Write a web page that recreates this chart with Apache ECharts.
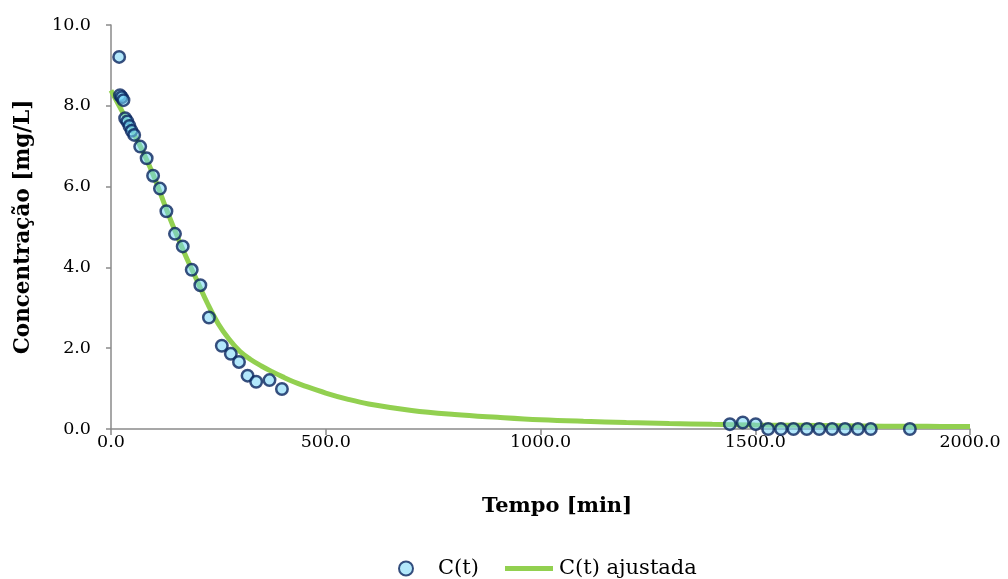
<!DOCTYPE html>
<html>
<head>
<meta charset="utf-8">
<script src="https://cdn.jsdelivr.net/npm/echarts@6/dist/echarts.min.js"></script>
<style>
  html, body { margin: 0; padding: 0; background: #ffffff; }
  #chart { width: 1008px; height: 579px; }
</style>
</head>
<body>
<div id="chart"></div>
<script>
// Measured concentration over time
const tempoMedido = [19, 21, 25, 29, 33, 38, 43, 48, 54, 68, 83, 98, 114, 129, 149, 167, 188, 208, 228, 258, 279, 298, 318, 338, 369, 398,
  1441, 1471, 1501, 1530, 1560, 1589, 1620, 1649, 1679, 1709, 1739, 1769, 1860];
const concMedida = [9.21, 8.26, 8.21, 8.14, 7.69, 7.61, 7.50, 7.38, 7.28, 6.99, 6.70, 6.27, 5.95, 5.39, 4.83, 4.52, 3.94, 3.56, 2.76, 2.06, 1.86, 1.66, 1.32, 1.17, 1.21, 0.99,
  0.12, 0.16, 0.12, 0.0, 0.0, 0.0, 0.0, 0.0, 0.0, 0.0, 0.0, 0.0, 0.0];

// Fitted curve, sampled
const tempoAjuste = [0, 25, 50, 75, 100, 125, 150, 175, 200, 225, 250, 275, 300, 325, 350, 375, 400, 425, 450, 500, 550, 600, 700, 800, 900, 1000,
  1100, 1200, 1300, 1400, 1500, 1600, 1700, 1800, 1900, 2000];
const concAjuste = [8.38, 7.88, 7.38, 6.85, 6.25, 5.55, 4.88, 4.26, 3.68, 3.10, 2.60, 2.22, 1.92, 1.72, 1.56, 1.42, 1.29, 1.17, 1.07, 0.89, 0.74, 0.62, 0.46, 0.36, 0.29, 0.23,
  0.19, 0.16, 0.135, 0.115, 0.10, 0.09, 0.08, 0.07, 0.065, 0.06];

const eixoX = { min: 0, max: 2000, interval: 500 };
const eixoY = { min: 0, max: 10, interval: 2 };

const serif = '"DejaVu Serif", "Liberation Serif", serif';
const axisGray = '#8a8a8a';

const chart = echarts.init(document.getElementById('chart'), null, { renderer: 'canvas' });

chart.setOption({
  animation: false,
  backgroundColor: '#ffffff',
  grid: { left: 111, right: 38, top: 25, bottom: 150, containLabel: false },
  legend: [
    {
      data: ['C(t)'],
      left: 398, top: 558, padding: 0,
      itemWidth: 14, itemHeight: 14,
      textStyle: { fontFamily: serif, fontSize: 21, color: '#000', padding: [0, 0, 0, 20] }
    },
    {
      data: [{ name: 'C(t) ajustada', icon: 'rect' }],
      left: 505, top: 558, padding: 0,
      itemWidth: 48, itemHeight: 5,
      textStyle: { fontFamily: serif, fontSize: 21, color: '#000', padding: [0, 0, 0, 1] }
    }
  ],
  xAxis: {
    type: 'value',
    min: eixoX.min, max: eixoX.max, interval: eixoX.interval,
    name: 'Tempo [min]',
    nameLocation: 'middle',
    nameGap: 67,
    nameTextStyle: { fontFamily: serif, fontSize: 21, fontWeight: 'bold', color: '#000', padding: [0, 0, 0, 33] },
    axisLine: { show: true, lineStyle: { color: axisGray, width: 1.5 } },
    axisTick: { show: true, length: 6, lineStyle: { color: axisGray, width: 1.5 } },
    axisLabel: { margin: 4, fontFamily: serif, fontSize: 17.5, color: '#000', formatter: v => v.toFixed(1) },
    splitLine: { show: false }
  },
  yAxis: {
    type: 'value',
    min: eixoY.min, max: eixoY.max, interval: eixoY.interval,
    name: 'Concentração [mg/L]',
    nameLocation: 'middle',
    nameGap: 77,
    nameTextStyle: { fontFamily: serif, fontSize: 21.5, fontWeight: 'bold', color: '#000' },
    axisLine: { show: true, lineStyle: { color: axisGray, width: 1.5 } },
    axisTick: { show: true, length: 5, lineStyle: { color: axisGray, width: 1.5 } },
    axisLabel: { margin: 20, fontFamily: serif, fontSize: 17.5, color: '#000', formatter: v => v.toFixed(1) },
    splitLine: { show: false }
  },
  series: [
    {
      name: 'C(t)',
      type: 'scatter',
      z: 3,
      symbol: 'circle',
      symbolSize: 11.5,
      data: tempoMedido.map((t, i) => [t, concMedida[i]]),
      itemStyle: {
        color: 'rgba(115, 212, 248, 0.68)',
        borderColor: '#09245e',
        borderWidth: 2.5
      }
    },
    {
      name: 'C(t) ajustada',
      type: 'line',
      z: 2,
      smooth: 0.4,
      showSymbol: false,
      symbol: 'none',
      data: tempoAjuste.map((t, i) => [t, concAjuste[i]]),
      lineStyle: { color: '#92d050', width: 5 },
      itemStyle: { color: '#92d050' }
    }
  ]
});
</script>
</body>
</html>
